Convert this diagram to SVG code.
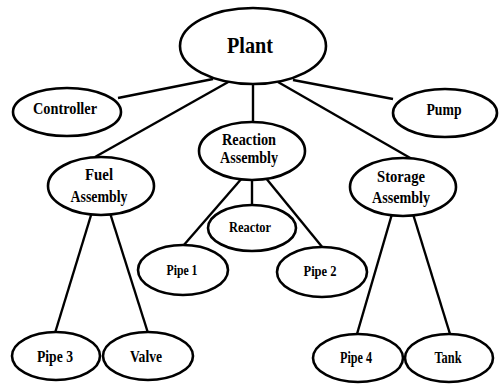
<svg xmlns="http://www.w3.org/2000/svg" width="502" height="384" viewBox="0 0 502 384">
  <style>
    .node ellipse { fill: #ffffff; stroke: #000000; stroke-width: 2.6; }
    .node text { font-family: "Liberation Serif", "Times New Roman", serif; font-weight: bold; fill: #000000; text-anchor: middle; }
    .edges line { stroke: #000000; stroke-width: 2.4; }
  </style>
  <rect width="502" height="384" fill="#ffffff"/>

  <!-- connectors -->
  <g class="edges">
    <line x1="213" y1="79" x2="118" y2="98"/>
    <line x1="293" y1="80" x2="393" y2="99"/>
    <line x1="230" y1="81" x2="95" y2="157"/>
    <line x1="253" y1="84" x2="253" y2="123"/>
    <line x1="278" y1="82" x2="412" y2="159"/>
    <line x1="92" y1="212" x2="55" y2="333"/>
    <line x1="110" y1="213" x2="148" y2="333"/>
    <line x1="243" y1="177" x2="183" y2="246"/>
    <line x1="252" y1="180" x2="252" y2="206"/>
    <line x1="265" y1="177" x2="323" y2="248"/>
    <line x1="392" y1="214" x2="357" y2="334"/>
    <line x1="413" y1="214" x2="450" y2="334"/>
  </g>

  <g id="plant" class="node">
    <ellipse cx="253" cy="46" rx="73" ry="38"/>
    <text x="250" y="53" font-size="24" textLength="46" lengthAdjust="spacingAndGlyphs">Plant</text>
  </g>
  <g id="controller" class="node">
    <ellipse cx="67" cy="112" rx="54" ry="24"/>
    <text x="65" y="114" font-size="16" textLength="64" lengthAdjust="spacingAndGlyphs">Controller</text>
  </g>
  <g id="pump" class="node">
    <ellipse cx="445" cy="113" rx="52" ry="24"/>
    <text x="444" y="115" font-size="16" textLength="35" lengthAdjust="spacingAndGlyphs">Pump</text>
  </g>
  <g id="reaction-assembly" class="node">
    <ellipse cx="252" cy="151" rx="53" ry="29"/>
    <text x="249" y="145" font-size="17" textLength="54" lengthAdjust="spacingAndGlyphs">Reaction</text>
    <text x="249" y="163" font-size="17" textLength="58" lengthAdjust="spacingAndGlyphs">Assembly</text>
  </g>
  <g id="fuel-assembly" class="node">
    <ellipse cx="101" cy="186" rx="53" ry="29"/>
    <text x="99" y="180" font-size="17" textLength="28" lengthAdjust="spacingAndGlyphs">Fuel</text>
    <text x="99" y="202" font-size="17" textLength="57" lengthAdjust="spacingAndGlyphs">Assembly</text>
  </g>
  <g id="storage-assembly" class="node">
    <ellipse cx="403" cy="187" rx="53" ry="29"/>
    <text x="401" y="182" font-size="17" textLength="48" lengthAdjust="spacingAndGlyphs">Storage</text>
    <text x="401" y="203" font-size="17" textLength="58" lengthAdjust="spacingAndGlyphs">Assembly</text>
  </g>
  <g id="reactor" class="node">
    <ellipse cx="252" cy="228" rx="44" ry="23"/>
    <text x="250" y="232" font-size="14" textLength="42" lengthAdjust="spacingAndGlyphs">Reactor</text>
  </g>
  <g id="pipe1" class="node">
    <ellipse cx="183" cy="270" rx="45" ry="25"/>
    <text x="182" y="275" font-size="15" textLength="31" lengthAdjust="spacingAndGlyphs">Pipe 1</text>
  </g>
  <g id="pipe2" class="node">
    <ellipse cx="322" cy="272" rx="45" ry="25"/>
    <text x="320" y="276" font-size="15" textLength="33" lengthAdjust="spacingAndGlyphs">Pipe 2</text>
  </g>
  <g id="pipe3" class="node">
    <ellipse cx="56" cy="356" rx="44" ry="24"/>
    <text x="55" y="362" font-size="16" textLength="36" lengthAdjust="spacingAndGlyphs">Pipe 3</text>
  </g>
  <g id="valve" class="node">
    <ellipse cx="148" cy="356" rx="45" ry="24"/>
    <text x="146" y="362" font-size="16" textLength="32" lengthAdjust="spacingAndGlyphs">Valve</text>
  </g>
  <g id="pipe4" class="node">
    <ellipse cx="358" cy="358" rx="45" ry="24"/>
    <text x="356" y="363" font-size="16" textLength="32" lengthAdjust="spacingAndGlyphs">Pipe 4</text>
  </g>
  <g id="tank" class="node">
    <ellipse cx="449" cy="358" rx="44" ry="24"/>
    <text x="448" y="363" font-size="16" textLength="27" lengthAdjust="spacingAndGlyphs">Tank</text>
  </g>
</svg>
